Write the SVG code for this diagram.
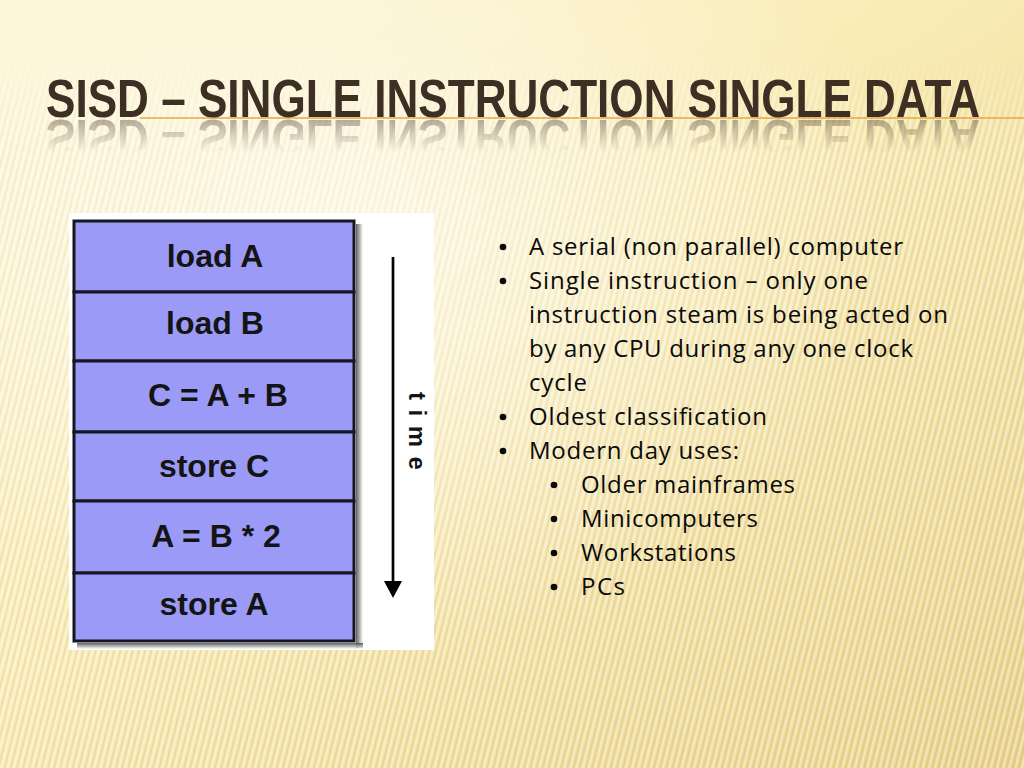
<svg xmlns="http://www.w3.org/2000/svg" xmlns:xlink="http://www.w3.org/1999/xlink" width="1024" height="768" viewBox="0 0 1024 768">
<defs>
<linearGradient id="bg" x1="0" y1="0" x2="1" y2="1">
<stop offset="0" stop-color="#fdf6d6"/>
<stop offset="0.45" stop-color="#f9ecb6"/>
<stop offset="1" stop-color="#e8d088"/>
</linearGradient>
<radialGradient id="hl" cx="0.33" cy="0.3" r="0.55">
<stop offset="0" stop-color="#ffffff" stop-opacity="0.6"/>
<stop offset="1" stop-color="#ffffff" stop-opacity="0"/>
</radialGradient>
<pattern id="stripes" width="6" height="20" patternUnits="userSpaceOnUse" patternTransform="rotate(14)">
<rect x="0" y="0" width="2.5" height="20" fill="#ffffff" opacity="0.4"/>
<rect x="3.5" y="0" width="1.5" height="20" fill="#c9a650" opacity="0.2"/>
</pattern>
<linearGradient id="stripeFade" x1="0" y1="0" x2="0" y2="1">
<stop offset="0" stop-color="#000"/>
<stop offset="0.07" stop-color="#000"/>
<stop offset="0.2" stop-color="#fff"/>
<stop offset="1" stop-color="#fff"/>
</linearGradient>
<mask id="stripeMask" maskUnits="userSpaceOnUse" x="0" y="0" width="1024" height="768">
<rect width="1024" height="768" fill="url(#stripeFade)"/>
</mask>
<linearGradient id="reflGrad" x1="0" y1="118" x2="0" y2="152" gradientUnits="userSpaceOnUse">
<stop offset="0" stop-color="#fff" stop-opacity="0.4"/>
<stop offset="1" stop-color="#fff" stop-opacity="0"/>
</linearGradient>
<mask id="reflMask" maskUnits="userSpaceOnUse" x="0" y="118" width="1024" height="40">
<rect x="0" y="118" width="1024" height="40" fill="url(#reflGrad)"/>
</mask>
<linearGradient id="shadowR" x1="0" y1="0" x2="1" y2="0">
<stop offset="0" stop-color="#444"/>
<stop offset="1" stop-color="#fff"/>
</linearGradient>
<linearGradient id="shadowB" x1="0" y1="0" x2="0" y2="1">
<stop offset="0" stop-color="#444"/>
<stop offset="1" stop-color="#fff"/>
</linearGradient>
<style>
.title{font-family:"Liberation Sans",Arial,sans-serif;font-weight:bold;font-size:53px;fill:#3e2f24;}
.cell{fill:#9b9bf7;stroke:#161620;stroke-width:3;}
.lbl{font-family:"Liberation Sans",Arial,sans-serif;font-weight:bold;font-size:32px;fill:#141414;text-anchor:middle;}
.txt{font-family:"Open Sans","Noto Sans",sans-serif;font-size:24px;fill:#0a0a0a;}
.dot{fill:#0a0a0a;}
</style>
</defs>

<!-- background -->
<rect width="1024" height="768" fill="url(#bg)"/>
<rect width="1024" height="768" fill="url(#stripes)" mask="url(#stripeMask)"/>
<rect width="1024" height="768" fill="url(#hl)"/>

<!-- title -->
<g id="title-group">
<line x1="140" y1="118" x2="1024" y2="118" stroke="#e3a94a" stroke-width="1.5"/>
<text id="title" class="title" x="46" y="117" textLength="934" lengthAdjust="spacingAndGlyphs">SISD – SINGLE INSTRUCTION SINGLE DATA</text>
<g mask="url(#reflMask)">
<use xlink:href="#title" href="#title" transform="translate(0,237) scale(1,-1)"/>
</g>
</g>

<!-- diagram panel -->
<g id="panel">
<rect x="69" y="213" width="365" height="437" fill="#ffffff"/>
<rect x="356" y="224" width="7" height="424" fill="url(#shadowR)" opacity="0.85"/>
<rect x="77" y="643" width="286" height="6" fill="url(#shadowB)" opacity="0.85"/>
</g>

<g id="node-load-a">
<rect class="cell" x="74" y="221" width="280" height="71"/>
<text class="lbl" x="215" y="267">load A</text>
</g>
<g id="node-load-b">
<rect class="cell" x="74" y="292" width="280" height="69"/>
<text class="lbl" x="215" y="334">load B</text>
</g>
<g id="node-c-a-b">
<rect class="cell" x="74" y="361" width="280" height="71"/>
<text class="lbl" x="218" y="406">C = A + B</text>
</g>
<g id="node-store-c">
<rect class="cell" x="74" y="432" width="280" height="69"/>
<text class="lbl" x="214" y="477">store C</text>
</g>
<g id="node-a-b-2">
<rect class="cell" x="74" y="501" width="280" height="72"/>
<text class="lbl" x="216" y="547">A = B * 2</text>
</g>
<g id="node-store-a">
<rect class="cell" x="74" y="573" width="280" height="68"/>
<text class="lbl" x="214" y="615">store A</text>
</g>

<g id="connectors">
<line x1="393" y1="257" x2="393" y2="584" stroke="#000" stroke-width="2.7"/>
<polygon points="384,581 402,581 393,598" fill="#000"/>
</g>

<g id="time-label">
<text transform="translate(409,392) rotate(90)" x="0" y="0" style="font-family:'Liberation Sans',Arial,sans-serif;font-weight:bold;font-size:24px;fill:#141414;letter-spacing:9.5px">time</text>
</g>

<!-- bullets -->
<g id="bullets">
<circle class="dot" cx="503" cy="247" r="3.3"/>
<text class="txt" x="529" y="255" textLength="374">A serial (non parallel) computer</text>
<circle class="dot" cx="503" cy="281" r="3.3"/>
<text class="txt" x="529" y="289" textLength="339">Single instruction – only one</text>
<text class="txt" x="529" y="323" textLength="419">instruction steam is being acted on</text>
<text class="txt" x="529" y="357" textLength="384">by any CPU during any one clock</text>
<text class="txt" x="529" y="391" textLength="58">cycle</text>
<circle class="dot" cx="503" cy="417" r="3.3"/>
<text class="txt" x="529" y="425" textLength="238">Oldest classification</text>
<circle class="dot" cx="503" cy="451" r="3.3"/>
<text class="txt" x="529" y="459" textLength="210">Modern day uses:</text>
<circle class="dot" cx="554" cy="485" r="3.3"/>
<text class="txt" x="581" y="493" textLength="214">Older mainframes</text>
<circle class="dot" cx="554" cy="519" r="3.3"/>
<text class="txt" x="581" y="527" textLength="177">Minicomputers</text>
<circle class="dot" cx="554" cy="553" r="3.3"/>
<text class="txt" x="581" y="561" textLength="155">Workstations</text>
<circle class="dot" cx="554" cy="587" r="3.3"/>
<text class="txt" x="581" y="595" textLength="44">PCs</text>
</g>
</svg>
